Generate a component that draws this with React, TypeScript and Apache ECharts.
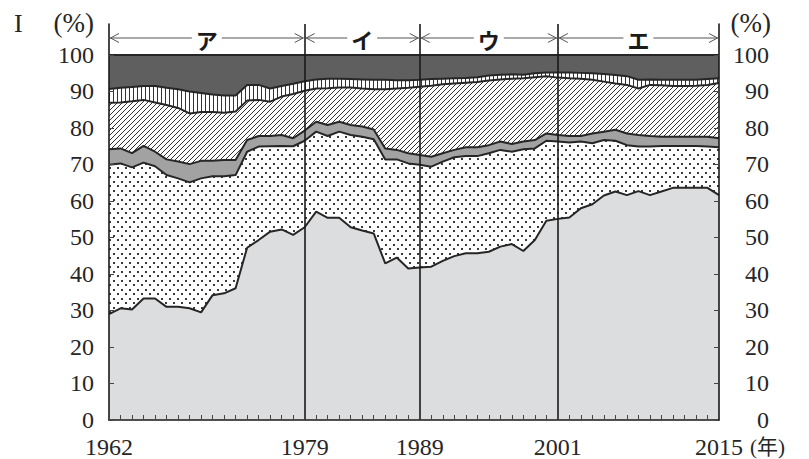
import React, { useEffect, useRef } from "react";
import * as echarts from "echarts";

const years = [
  1962, 1963, 1964, 1965, 1966, 1967, 1968, 1969, 1970, 1971, 1972, 1973, 1974, 1975, 1976, 1977, 1978,
  1979, 1980, 1981, 1982, 1983, 1984, 1985, 1986, 1987, 1988, 1989, 1990, 1991, 1992, 1993, 1994, 1995,
  1996, 1997, 1998, 1999, 2000, 2001, 2002, 2003, 2004, 2005, 2006, 2007, 2008, 2009, 2010, 2011, 2012,
  2013, 2014, 2015,
];

// cumulative upper boundary of each band (%)
const lightTop = [
  29.0, 30.6, 30.3, 33.3, 33.3, 31.0, 31.0, 30.6, 29.5, 34.2, 34.7, 36.1, 47.2, 49.3, 51.6, 52.2, 50.7,
  52.8, 57.1, 55.4, 55.4, 52.8, 51.9, 51.1, 42.9, 44.5, 41.5, 41.8, 42.0, 43.6, 44.9, 45.7, 45.7, 46.1,
  47.5, 48.2, 46.3, 49.3, 54.6, 55.1, 55.5, 58.0, 59.1, 61.5, 62.6, 61.6, 62.7, 61.6, 62.6, 63.6, 63.6,
  63.6, 63.6, 61.6,
];
const dotTop = [
  69.9, 70.3, 69.2, 70.5, 69.5, 67.1, 66.2, 65.1, 66.2, 66.8, 66.8, 67.1, 73.5, 74.9, 75.0, 75.1, 75.0,
  76.5, 79.0, 77.8, 79.0, 78.1, 77.6, 76.9, 71.4, 71.4, 70.3, 69.9, 69.4, 70.8, 72.0, 72.3, 72.3, 73.1,
  74.0, 73.5, 74.2, 74.4, 76.5, 76.3, 76.0, 76.3, 75.8, 76.7, 76.5, 75.3, 74.9, 74.9, 75.1, 75.1, 75.1,
  75.1, 74.9, 74.7,
];
const grayTop = [
  74.2, 74.4, 73.1, 75.1, 73.5, 71.4, 70.8, 70.1, 71.0, 71.0, 71.2, 71.2, 76.7, 77.8, 77.8, 78.1, 77.2,
  79.3, 81.7, 80.8, 81.7, 80.8, 80.4, 79.6, 74.4, 74.0, 73.1, 72.6, 72.1, 73.1, 74.0, 74.7, 74.7, 75.3,
  76.3, 75.6, 76.3, 76.7, 78.5, 78.1, 77.8, 77.8, 78.5, 79.0, 79.5, 78.5, 78.1, 77.8, 77.6, 77.6, 77.6,
  77.6, 77.6, 77.2,
];
const hatchTop = [
  86.9, 87.0, 87.3, 87.7, 87.0, 86.3, 85.5, 84.0, 84.4, 84.4, 84.2, 84.5, 87.5, 87.7, 87.2, 88.6, 89.3,
  90.2, 90.8, 90.9, 91.1, 91.1, 90.8, 90.6, 90.6, 90.8, 91.0, 91.3, 91.6, 92.0, 92.2, 92.4, 92.6, 93.0,
  93.3, 93.5, 93.6, 93.9, 94.2, 93.8, 93.6, 93.5, 93.2, 92.7, 92.2, 91.8, 90.8, 91.8, 91.7, 91.5, 91.5,
  91.6, 91.8, 92.3,
];
const stripeTop = [
  90.7, 91.0, 91.2, 91.5, 91.5, 91.0, 90.6, 90.0, 89.6, 89.2, 88.9, 88.9, 91.8, 91.8, 90.8, 91.5, 92.1,
  92.8, 93.3, 93.5, 93.5, 93.4, 93.3, 93.2, 93.2, 93.1, 93.1, 93.2, 93.4, 93.5, 93.6, 93.7, 93.9, 94.4,
  94.6, 94.7, 94.6, 95.0, 95.2, 95.2, 95.2, 95.1, 95.0, 94.8, 94.5, 94.2, 93.2, 93.3, 93.2, 93.2, 93.2,
  93.2, 93.4, 93.6,
];
const darkTop = [
  100, 100, 100, 100, 100, 100, 100, 100, 100, 100, 100, 100, 100, 100, 100, 100, 100, 100, 100, 100, 100,
  100, 100, 100, 100, 100, 100, 100, 100, 100, 100, 100, 100, 100, 100, 100, 100, 100, 100, 100, 100, 100,
  100, 100, 100, 100, 100, 100, 100, 100, 100, 100, 100, 100,
];

const labelYears = [1962, 1979, 1989, 2001, 2015];
const dividerYears = [1979, 1989, 2001];
const periods = [
  { from: 1962, to: 1979, name: "ア" },
  { from: 1979, to: 1989, name: "イ" },
  { from: 1989, to: 2001, name: "ウ" },
  { from: 2001, to: 2015, name: "エ" },
];
const yTicks = [0, 10, 20, 30, 40, 50, 60, 70, 80, 90, 100];

const SERIF = "'Liberation Serif', 'Times New Roman', serif";
const JP = "'Noto Sans CJK JP', sans-serif";
const INK = "#262626";

function makePattern(w: number, h: number, draw: (ctx: CanvasRenderingContext2D) => void) {
  const c = document.createElement("canvas");
  c.width = w;
  c.height = h;
  const ctx = c.getContext("2d")!;
  ctx.fillStyle = "#ffffff";
  ctx.fillRect(0, 0, w, h);
  draw(ctx);
  return { image: c, repeat: "repeat", imageWidth: w, imageHeight: h } as any;
}

export default function App() {
  const ref = useRef<HTMLDivElement>(null);
  useEffect(() => {
    const chart = echarts.init(ref.current!, null, { renderer: "svg" });

    const dots = makePattern(8, 9, (ctx) => {
      ctx.fillStyle = "#3a3a3a";
      ctx.fillRect(1, 1, 2, 2);
      ctx.fillRect(5, 5, 2, 2);
    });
    const hatch = makePattern(5, 5, (ctx) => {
      ctx.strokeStyle = "#333";
      ctx.lineWidth = 1;
      ctx.beginPath();
      ctx.moveTo(-1, 6);
      ctx.lineTo(6, -1);
      ctx.moveTo(-2, 2);
      ctx.lineTo(2, -2);
      ctx.moveTo(3, 7);
      ctx.lineTo(7, 3);
      ctx.stroke();
    });
    const stripes = makePattern(4, 4, (ctx) => {
      ctx.fillStyle = "#333";
      ctx.fillRect(1, 0, 1, 4);
    });

    const mk = (name: string, vals: number[], fill: any) => ({
      name,
      type: "line",
      data: years.map((y, i) => [y, vals[i]]),
      symbol: "none",
      silent: true,
      lineStyle: { color: INK, width: 2 },
      areaStyle: { color: fill, opacity: 1 },
    });

    const series: any[] = [
      mk("dark", darkTop, "#5f5f5f"),
      mk("stripes", stripeTop, stripes),
      mk("hatch", hatchTop, hatch),
      mk("gray", grayTop, "#a2a2a2"),
      mk("dots", dotTop, dots),
      mk("light", lightTop, "#dcdddf"),
    ];
    series[5].markLine = {
      silent: true,
      symbol: "none",
      label: { show: false },
      lineStyle: { color: "#1a1a1a", width: 1.6, type: "solid" },
      data: dividerYears.map((y) => ({ xAxis: y })),
    };

    const yAxisBase = (pos: "left" | "right") => ({
      type: "value",
      position: pos,
      min: 0,
      max: 108.49,
      z: 10,
      splitLine: { show: false },
      axisLine: { show: true, lineStyle: { color: "#1a1a1a", width: 1.6 } },
      axisTick: {
        show: true,
        inside: true,
        length: 5,
        customValues: yTicks,
        lineStyle: { color: "#444", width: 1 },
      },
      axisLabel: {
        customValues: yTicks,
        color: INK,
        fontFamily: SERIF,
        fontSize: 24,
        lineHeight: 20,
        margin: pos === "left" ? 15 : 50,
        align: "right",
      },
    });

    chart.setOption({
      animation: false,
      backgroundColor: "#ffffff",
      grid: { left: 109, right: 90, top: 24, bottom: 39 },
      xAxis: {
        type: "value",
        min: 1962,
        max: 2015,
        interval: 1,
        z: 10,
        splitLine: { show: false },
        axisLine: { show: true, lineStyle: { color: "#1a1a1a", width: 1.6 } },
        axisTick: { show: true, inside: true, length: 5, lineStyle: { color: "#444", width: 1 } },
        axisLabel: {
          color: INK,
          fontFamily: SERIF,
          fontSize: 24,
          lineHeight: 20,
          margin: 17,
          formatter: (v: number) => (labelYears.includes(v) ? String(v) : ""),
        },
      },
      yAxis: [yAxisBase("left"), yAxisBase("right")],
      series,
    });

    const arrowY = 38;
    const g: any[] = [];
    periods.forEach((p) => {
      const x0 = chart.convertToPixel({ xAxisIndex: 0, yAxisIndex: 0 }, [p.from, 0])[0];
      const x1 = chart.convertToPixel({ xAxisIndex: 0, yAxisIndex: 0 }, [p.to, 0])[0];
      const xc = (x0 + x1) / 2;
      const st = { stroke: "#555", lineWidth: 1, fill: "none" };
      g.push({ type: "line", shape: { x1: x0 + 1, y1: arrowY, x2: xc - 15, y2: arrowY }, style: st, silent: true });
      g.push({ type: "line", shape: { x1: xc + 15, y1: arrowY, x2: x1 - 1, y2: arrowY }, style: st, silent: true });
      g.push({
        type: "polyline",
        shape: { points: [[x0 + 10, arrowY - 4.5], [x0 + 1.5, arrowY], [x0 + 10, arrowY + 4.5]] },
        style: st,
        silent: true,
      });
      g.push({
        type: "polyline",
        shape: { points: [[x1 - 10, arrowY - 4.5], [x1 - 1.5, arrowY], [x1 - 10, arrowY + 4.5]] },
        style: st,
        silent: true,
      });
      g.push({
        type: "text",
        x: xc,
        y: arrowY + 1,
        silent: true,
        style: {
          text: p.name,
          fontFamily: JP,
          fontWeight: "bold",
          fontSize: 22,
          fill: "#1a1a1a",
          align: "center",
          verticalAlign: "middle",
        },
      });
    });
    g.push({
      type: "text",
      x: 14,
      y: 23,
      silent: true,
      style: { text: "I", fontFamily: SERIF, fontSize: 26, fill: INK, align: "left", verticalAlign: "middle" },
    });
    g.push({
      type: "text",
      x: 94,
      y: 23,
      silent: true,
      style: { text: "(%)", fontFamily: SERIF, fontSize: 27, fill: INK, align: "right", verticalAlign: "middle" },
    });
    g.push({
      type: "text",
      x: 771,
      y: 23,
      silent: true,
      style: { text: "(%)", fontFamily: SERIF, fontSize: 27, fill: INK, align: "right", verticalAlign: "middle" },
    });
    g.push({
      type: "text",
      x: 750,
      y: 447,
      silent: true,
      style: {
        text: "(年)",
        fontFamily: "'Liberation Serif', 'Noto Sans CJK JP', serif",
        fontSize: 21,
        fill: INK,
        align: "left",
        verticalAlign: "middle",
      },
    });
    chart.setOption({ graphic: g });

    return () => chart.dispose();
  }, []);
  return <div ref={ref} style={{ position: "fixed", left: 0, top: 0, width: 809, height: 459 }} />;
}
